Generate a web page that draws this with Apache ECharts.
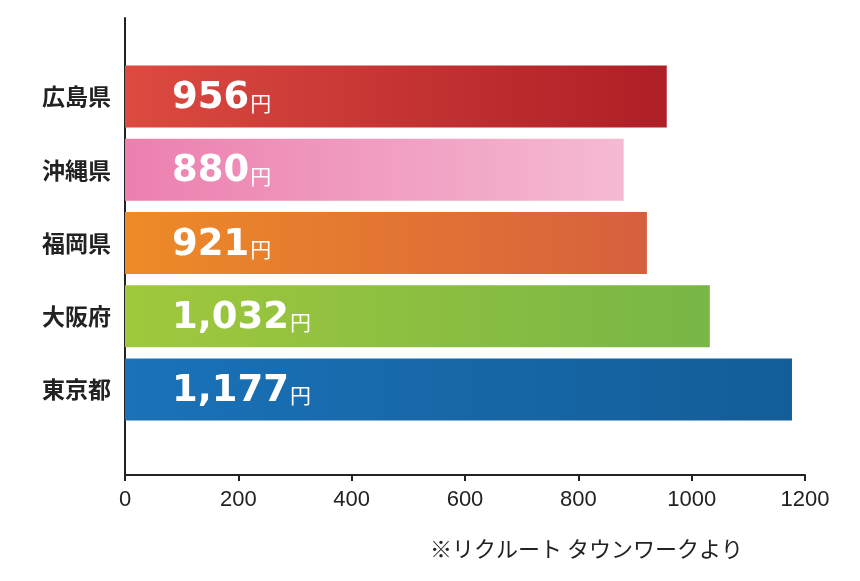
<!DOCTYPE html>
<html><head><meta charset="utf-8">
<script src="https://cdn.jsdelivr.net/npm/echarts@6/dist/echarts.min.js"></script>
<style>html,body{margin:0;padding:0;background:#fff}#c{width:860px;height:581px}</style>
</head><body><div id="c"></div>
<script>
const categories = ['東京都','大阪府','福岡県','沖縄県','広島県'];
const values = [1177, 1032, 921, 880, 956];
const gradients = [['#1a72b8','#135d98'],['#a0c83c','#78b646'],['#ee8b27','#d6603e'],['#ec7fae','#f5bad3'],['#dc4a40','#ae1f26']];
const xTicks = [0,200,400,600,800,1000,1200];
const font = '"Noto Sans CJK JP", sans-serif';
const chart = echarts.init(document.getElementById('c'));
chart.setOption({
  animation:false,
  grid:[{left:125,width:680,top:18,height:457},{left:125,width:680,top:60,height:366}],
  xAxis:[
    {gridIndex:0,type:'value',min:0,max:1200,interval:200,splitLine:{show:false},
     axisLine:{show:true,lineStyle:{color:'#222',width:2}},axisTick:{show:true,length:6,lineStyle:{color:'#222',width:2}},
     axisLabel:{color:'#222',fontSize:22,fontFamily:'Liberation Sans, Arial',margin:14,formatter:v=>String(v)}},
    {gridIndex:1,type:'value',min:0,max:1200,show:false}
  ],
  yAxis:[
    {gridIndex:0,type:'category',data:[''],axisLine:{lineStyle:{color:'#222',width:2}},axisTick:{show:false},axisLabel:{show:false}},
    {gridIndex:1,type:'category',data:categories,axisLine:{show:false},axisTick:{show:false},
     axisLabel:{color:'#222',fontSize:23,fontWeight:'bold',fontFamily:font,margin:14}}
  ],
  series:[{type:'bar',xAxisIndex:1,yAxisIndex:1,barWidth:62,
    data:values.map((v,i)=>({value:v,itemStyle:{color:new echarts.graphic.LinearGradient(0,0,1,0,[{offset:0,color:gradients[i][0]},{offset:1,color:gradients[i][1]}])}})),
    label:{show:true,position:'insideLeft',offset:[42,2],
      formatter:p=>'{n|'+p.value.toLocaleString('en-US')+'}{u|円}',
      rich:{n:{color:'#fff',fontSize:37,fontWeight:'bold',fontFamily:'DejaVu Sans'},
            u:{color:'#fff',fontSize:21,fontFamily:font,padding:[8,0,0,1]}}}
  }],
  graphic:[{type:'text',left:430,top:538,style:{text:'※リクルート タウンワークより',fontSize:22,fill:'#222',fontFamily:font}}]
});
</script></body></html>
